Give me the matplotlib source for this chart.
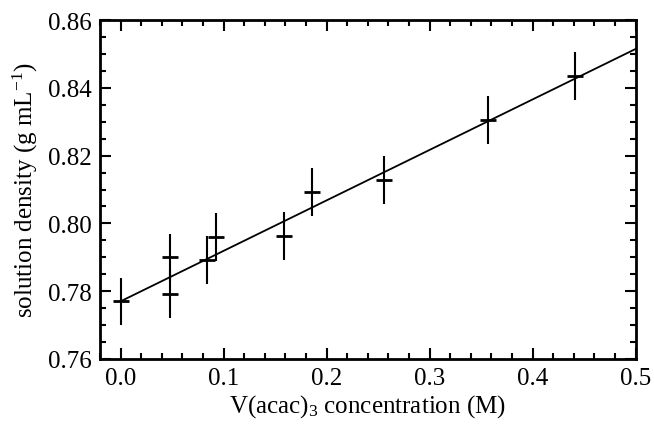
import matplotlib
matplotlib.use("Agg")
import matplotlib.pyplot as plt
from matplotlib.ticker import MultipleLocator, FormatStrFormatter

# Data
conc = [0.0, 0.048, 0.048, 0.0835, 0.093, 0.159, 0.186, 0.256, 0.357, 0.441]
density = [0.777, 0.7792, 0.790, 0.7892, 0.796, 0.7963, 0.8093, 0.8128, 0.8305, 0.8435]
err = [0.007, 0.007, 0.007, 0.007, 0.007, 0.007, 0.007, 0.007, 0.007, 0.007]
fit_x = [0.0, 0.5]
fit_y = [0.777, 0.8515]

plt.rcParams['font.family'] = ['Liberation Serif', 'DejaVu Serif']
plt.rcParams['mathtext.fontset'] = 'custom'
plt.rcParams['mathtext.rm'] = 'Liberation Serif'
plt.rcParams['mathtext.it'] = 'Liberation Serif:italic'

fig = plt.figure(figsize=(6.54, 4.31), dpi=100)
ax = fig.add_axes([0.153, 0.165, 0.819, 0.786])

ax.plot(fit_x, fit_y, color='black', lw=1.3, zorder=2)
ax.errorbar(conc, density, yerr=err, fmt='_', color='black', ms=11, mew=2,
            elinewidth=1.5, capsize=0, zorder=3)

ax.set_xlim(-0.02, 0.5)
ax.set_ylim(0.76, 0.86)
ax.xaxis.set_major_locator(MultipleLocator(0.1))
ax.xaxis.set_minor_locator(MultipleLocator(0.02))
ax.yaxis.set_major_locator(MultipleLocator(0.02))
ax.yaxis.set_minor_locator(MultipleLocator(0.005))
ax.xaxis.set_major_formatter(FormatStrFormatter('%.1f'))
ax.yaxis.set_major_formatter(FormatStrFormatter('%.2f'))

ax.tick_params(which='both', direction='in', top=True, right=True, width=1.5, labelsize=18, colors='black')
ax.tick_params(which='major', length=8, pad=6)
ax.tick_params(which='minor', length=4.5)
for s in ax.spines.values():
    s.set_linewidth(2)

ax.set_xlabel('V(acac)$_3$ concentration (M)', fontsize=18, labelpad=2)
ax.set_ylabel('solution density (g mL$^{-1}$)', fontsize=18, labelpad=6)

fig.savefig('out.png', dpi=100)
